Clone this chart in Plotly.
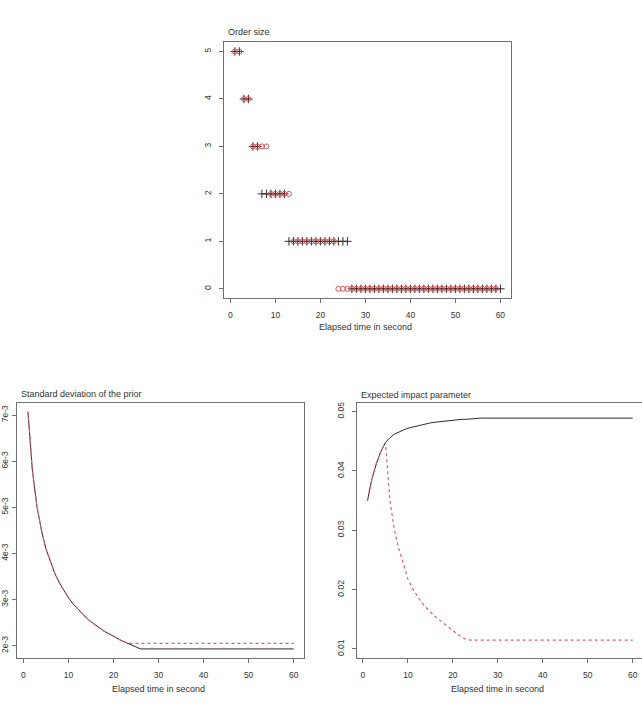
import plotly.graph_objects as go

W, H = 642, 705

# ---------------- data ----------------
seconds = list(range(1, 61))

order_black = [5, 5, 4, 4, 3, 3, 2, 2, 2, 2, 2, 2,
               1, 1, 1, 1, 1, 1, 1, 1, 1, 1, 1, 1, 1, 1,
               0, 0, 0, 0, 0, 0, 0, 0, 0, 0, 0, 0, 0, 0, 0, 0, 0,
               0, 0, 0, 0, 0, 0, 0, 0, 0, 0, 0, 0, 0, 0, 0, 0, 0]
order_red = [5, 5, 4, 4, 3, 3, 3, 3, 2, 2, 2, 2, 2,
             1, 1, 1, 1, 1, 1, 1, 1, 1, 1,
             0, 0, 0, 0, 0, 0, 0, 0, 0, 0, 0, 0, 0, 0, 0, 0, 0, 0, 0,
             0, 0, 0, 0, 0, 0, 0, 0, 0, 0, 0, 0, 0, 0, 0, 0, 0]

sd_black = [0.00707, 0.00579, 0.00502, 0.00450, 0.00410, 0.00381, 0.00356, 0.00336,
            0.00319, 0.00304, 0.00291, 0.00280, 0.00270, 0.00260, 0.00252, 0.00245,
            0.00238, 0.00231, 0.00226, 0.00220, 0.00215, 0.00210, 0.00206, 0.00202,
            0.00198, 0.00193,
            0.00193, 0.00193, 0.00193, 0.00193, 0.00193, 0.00193, 0.00193, 0.00193,
            0.00193, 0.00193, 0.00193, 0.00193, 0.00193, 0.00193, 0.00193, 0.00193,
            0.00193, 0.00193, 0.00193, 0.00193, 0.00193, 0.00193, 0.00193, 0.00193,
            0.00193, 0.00193, 0.00193, 0.00193, 0.00193, 0.00193, 0.00193, 0.00193,
            0.00193, 0.00193]
sd_red = [0.00707, 0.00579, 0.00502, 0.00450, 0.00410, 0.00381, 0.00356, 0.00336,
          0.00319, 0.00304, 0.00291, 0.00280, 0.00270, 0.00260, 0.00252, 0.00245,
          0.00238, 0.00231, 0.00226, 0.00220, 0.00215, 0.00210, 0.00206,
          0.00205, 0.00205, 0.00205, 0.00205, 0.00205, 0.00205, 0.00205, 0.00205,
          0.00205, 0.00205, 0.00205, 0.00205, 0.00205, 0.00205, 0.00205, 0.00205,
          0.00205, 0.00205, 0.00205, 0.00205, 0.00205, 0.00205, 0.00205, 0.00205,
          0.00205, 0.00205, 0.00205, 0.00205, 0.00205, 0.00205, 0.00205, 0.00205,
          0.00205, 0.00205, 0.00205, 0.00205, 0.00205]

impact_black = [0.0350, 0.0387, 0.0413, 0.0433, 0.0448, 0.0456, 0.0462, 0.0466,
                0.0469, 0.0472, 0.0474, 0.0476, 0.0478, 0.0479, 0.0481, 0.0482,
                0.0483, 0.0484, 0.0485, 0.0485, 0.0486, 0.0487, 0.0487, 0.0488,
                0.0488, 0.0489,
                0.0489, 0.0489, 0.0489, 0.0489, 0.0489, 0.0489, 0.0489, 0.0489,
                0.0489, 0.0489, 0.0489, 0.0489, 0.0489, 0.0489, 0.0489, 0.0489,
                0.0489, 0.0489, 0.0489, 0.0489, 0.0489, 0.0489, 0.0489, 0.0489,
                0.0489, 0.0489, 0.0489, 0.0489, 0.0489, 0.0489, 0.0489, 0.0489,
                0.0489, 0.0489]
impact_red = [0.0350, 0.0387, 0.0413, 0.0433, 0.0448, 0.0350, 0.0300, 0.0268,
              0.0243, 0.0218, 0.0202, 0.0190, 0.0179, 0.0170, 0.0162, 0.0155,
              0.0149, 0.0143, 0.0136, 0.0130, 0.0125, 0.0120, 0.0116,
              0.0115, 0.0115, 0.0115, 0.0115, 0.0115, 0.0115, 0.0115, 0.0115,
              0.0115, 0.0115, 0.0115, 0.0115, 0.0115, 0.0115, 0.0115, 0.0115,
              0.0115, 0.0115, 0.0115, 0.0115, 0.0115, 0.0115, 0.0115, 0.0115,
              0.0115, 0.0115, 0.0115, 0.0115, 0.0115, 0.0115, 0.0115, 0.0115,
              0.0115, 0.0115, 0.0115, 0.0115, 0.0115]

x_ticks = [0, 10, 20, 30, 40, 50, 60]
order_ticks = [0, 1, 2, 3, 4, 5]
sd_ticks = [0.002, 0.003, 0.004, 0.005, 0.006, 0.007]
sd_tick_labels = ["2e-3", "3e-3", "4e-3", "5e-3", "6e-3", "7e-3"]
impact_ticks = [0.01, 0.02, 0.03, 0.04, 0.05]
impact_tick_labels = ["0.01", "0.02", "0.03", "0.04", "0.05"]

titles = ["Order size", "Standard deviation of the prior", "Expected impact parameter"]
xlabel = "Elapsed time in second"

# ---------------- style ----------------
BLACK = "#2b2b2b"
RED_MARK = "rgb(222,80,85)"
RED_LINE = "rgb(226,95,108)"
AXC = "#707070"
FONT = "Liberation Sans, Arial, sans-serif"

fig = go.Figure()

# top panel
fig.add_trace(go.Scatter(x=seconds, y=order_black, mode="markers",
                         marker=dict(symbol="cross-thin", size=6, color=BLACK,
                                     line=dict(color=BLACK, width=1)),
                         xaxis="x", yaxis="y", showlegend=False))
fig.add_trace(go.Scatter(x=seconds, y=order_red, mode="markers",
                         marker=dict(symbol="circle-open", size=5, color=RED_MARK,
                                     line=dict(color=RED_MARK, width=1)),
                         xaxis="x", yaxis="y", showlegend=False))
# bottom left
fig.add_trace(go.Scatter(x=seconds, y=sd_black, mode="lines",
                         line=dict(color=BLACK, width=1),
                         xaxis="x2", yaxis="y2", showlegend=False))
fig.add_trace(go.Scatter(x=seconds, y=sd_red, mode="lines",
                         line=dict(color=RED_LINE, width=1.2, dash="3px,3px"),
                         xaxis="x2", yaxis="y2", showlegend=False))
# bottom right
fig.add_trace(go.Scatter(x=seconds, y=impact_black, mode="lines",
                         line=dict(color=BLACK, width=1),
                         xaxis="x3", yaxis="y3", showlegend=False))
fig.add_trace(go.Scatter(x=seconds, y=impact_red, mode="lines",
                         line=dict(color=RED_LINE, width=1.2, dash="3px,3px"),
                         xaxis="x3", yaxis="y3", showlegend=False))


def px_x(p):
    return p / W


def px_y(p):
    return 1 - p / H


axis_common = dict(showgrid=False, zeroline=False, showline=True, mirror=True,
                   linecolor=AXC, linewidth=1, ticks="outside", ticklen=4,
                   tickcolor=AXC, tickwidth=1,
                   tickfont=dict(family=FONT, size=8.5, color="#333"))

boxes = {
    "top": (224.3, 511.0, 42.0, 298.3),
    "bl": (17.3, 304.3, 402.7, 658.3),
    "br": (357.0, 642.0, 402.7, 658.3),
}

layout = dict(
    width=W, height=H, margin=dict(l=0, r=0, t=0, b=0),
    paper_bgcolor="white", plot_bgcolor="white",
    font=dict(family=FONT, color="#333"),
)

b = boxes["top"]
layout["xaxis"] = dict(domain=[px_x(b[0]), px_x(b[1])], range=[-1.36, 62.36],
                       tickvals=x_ticks, anchor="y", ticklabelstandoff=4, **axis_common)
layout["yaxis"] = dict(domain=[px_y(b[3]), px_y(b[2])], range=[-0.2, 5.2],
                       tickvals=order_ticks, anchor="x", tickangle=-90,
                       ticklabelstandoff=5, **axis_common)
b = boxes["bl"]
layout["xaxis2"] = dict(domain=[px_x(b[0]), px_x(b[1])], range=[-1.36, 62.36],
                        tickvals=x_ticks, anchor="y2", ticklabelstandoff=4, **axis_common)
layout["yaxis2"] = dict(domain=[px_y(b[3]), px_y(b[2])], range=[0.001727, 0.007267],
                        tickvals=sd_ticks, ticktext=sd_tick_labels, anchor="x2",
                        tickangle=-90, ticklabelstandoff=1, **axis_common)
b = boxes["br"]
layout["xaxis3"] = dict(domain=[px_x(b[0]), 1.0], range=[-1.33, 62.07],
                        tickvals=x_ticks, anchor="y3", ticklabelstandoff=4, **axis_common)
layout["yaxis3"] = dict(domain=[px_y(b[3]), px_y(b[2])], range=[0.00843, 0.0515],
                        tickvals=impact_ticks, ticktext=impact_tick_labels, anchor="x3",
                        tickangle=-90, ticklabelstandoff=5, **axis_common)

fig.update_layout(**layout)

ann_font = dict(family=FONT, size=9, color="#333")
# panel titles
fig.add_annotation(text=titles[0], xref="paper", yref="paper", x=px_x(226), y=px_y(32.3),
                   xanchor="left", yanchor="middle", showarrow=False, font=ann_font)
fig.add_annotation(text=titles[1], xref="paper", yref="paper", x=px_x(19), y=px_y(394.3),
                   xanchor="left", yanchor="middle", showarrow=False, font=ann_font)
fig.add_annotation(text=titles[2], xref="paper", yref="paper", x=px_x(358.5), y=px_y(395),
                   xanchor="left", yanchor="middle", showarrow=False, font=ann_font)
# x axis titles
fig.add_annotation(text=xlabel, xref="x", yref="paper", x=30, y=px_y(326.7),
                   xanchor="center", yanchor="middle", showarrow=False, font=ann_font)
fig.add_annotation(text=xlabel, xref="x2", yref="paper", x=30, y=px_y(689),
                   xanchor="center", yanchor="middle", showarrow=False, font=ann_font)
fig.add_annotation(text=xlabel, xref="x3", yref="paper", x=30, y=px_y(689),
                   xanchor="center", yanchor="middle", showarrow=False, font=ann_font)

fig.write_html("out.html")
